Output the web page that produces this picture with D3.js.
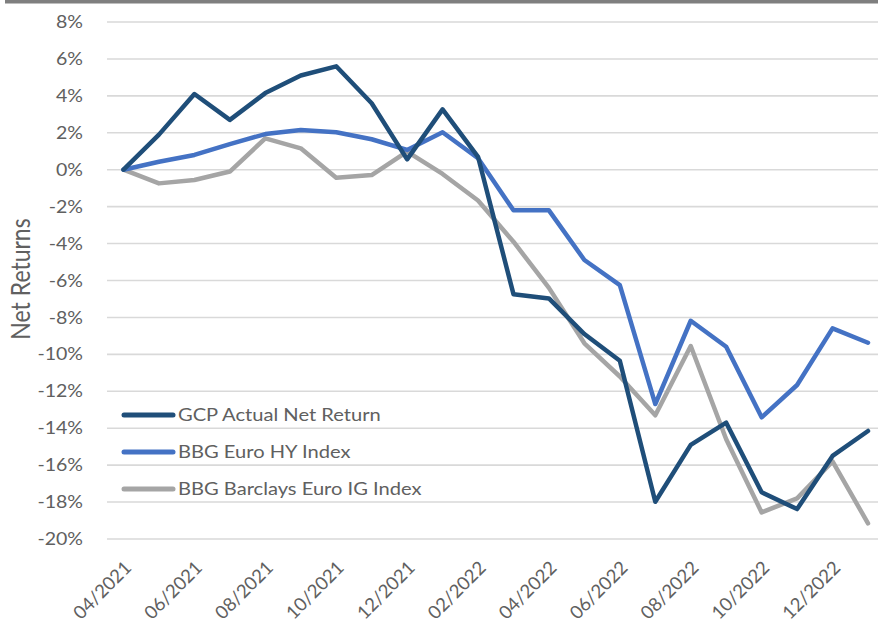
<!DOCTYPE html>
<html>
<head>
<meta charset="utf-8">
<script src="https://cdn.jsdelivr.net/npm/d3@7"></script>
<style>
  html, body { margin: 0; padding: 0; background: #fff; }
  svg { display: block; }
  text { font-family: Lato, Calibri, "Open Sans", sans-serif; fill: #606060; }
</style>
</head>
<body>
<svg id="chart" width="878" height="623"></svg>
<script>
const months = ["04/2021","05/2021","06/2021","07/2021","08/2021","09/2021","10/2021","11/2021","12/2021",
  "01/2022","02/2022","03/2022","04/2022","05/2022","06/2022","07/2022","08/2022","09/2022","10/2022","11/2022","12/2022","01/2023"];
const yTicks = [8, 6, 4, 2, 0, -2, -4, -6, -8, -10, -12, -14, -16, -18, -20];
const seriesNames = ["GCP Actual Net Return", "BBG Euro HY Index", "BBG Barclays Euro IG Index"];
const gcp = [0, 1.9, 4.1, 2.7, 4.15, 5.1, 5.6, 3.6, 0.56, 3.27, 0.7, -6.74, -6.97, -8.9, -10.35, -17.98, -14.9, -13.7, -17.47, -18.38, -15.5, -14.15];
const hy  = [0, 0.43, 0.8, 1.39, 1.93, 2.15, 2.03, 1.65, 1.07, 2.03, 0.62, -2.2, -2.2, -4.89, -6.25, -12.69, -8.18, -9.59, -13.41, -11.66, -8.59, -9.37];
const ig  = [0, -0.74, -0.56, -0.1, 1.7, 1.16, -0.43, -0.29, 0.98, -0.23, -1.67, -3.9, -6.4, -9.4, -11.2, -13.3, -9.55, -14.6, -18.56, -17.8, -15.8, -19.15];
const xLabelMonths = months.filter((m, i) => i % 2 === 0);

const colors = ["#1F4E79", "#4472C4", "#A5A5A5"];
const SX = 1.15; // horizontal stretch of text

const svg = d3.select("#chart");

// top bar
svg.append("rect").attr("x", 5).attr("y", 0).attr("width", 873).attr("height", 3.5).attr("fill", "#7f7f7f");

const x = d3.scalePoint().domain(months).range([123.5, 868]);
const y = d3.scaleLinear().domain([-20, 8]).range([539, 22]);

// gridlines
svg.append("g").selectAll("line").data(yTicks).join("line")
  .attr("x1", 107).attr("x2", 878)
  .attr("y1", d => y(d)).attr("y2", d => y(d))
  .attr("stroke", "#d9d9d9").attr("stroke-width", 1.6);

// y tick labels
svg.append("g").selectAll("text").data(yTicks).join("text")
  .attr("transform", d => `translate(83,${y(d)}) scale(${SX},1)`)
  .attr("text-anchor", "end").attr("dy", "0.36em")
  .style("font-size", "17px")
  .text(d => d + "%");

// x tick labels
svg.append("g").selectAll("text").data(xLabelMonths).join("text")
  .attr("transform", d => `translate(${x(d) + 9},569) rotate(-45)`)
  .attr("text-anchor", "end")
  .style("font-size", "18.5px")
  .text(d => d);

// y title
svg.append("text")
  .attr("transform", `translate(30,279) scale(${SX},1) rotate(-90)`)
  .attr("text-anchor", "middle")
  .style("font-size", "23px")
  .text("Net Returns");

// lines
const lineGen = d3.line().x((d, i) => x(months[i])).y(d => y(d));
const allSeries = [gcp, hy, ig];
const drawOrder = [2, 1, 0];
svg.append("g").selectAll("path").data(drawOrder).join("path")
  .attr("d", k => lineGen(allSeries[k]))
  .attr("fill", "none")
  .attr("stroke", k => colors[k])
  .attr("stroke-width", 4.5)
  .attr("stroke-linejoin", "round")
  .attr("stroke-linecap", "round");

// legend
const legY = d3.scalePoint().domain(seriesNames).range([415, 489]);
const leg = svg.append("g").selectAll("g").data(seriesNames).join("g")
  .attr("transform", d => `translate(0,${legY(d)})`);
leg.append("line").attr("x1", 124).attr("x2", 173).attr("y1", 0).attr("y2", 0)
  .attr("stroke", (d, i) => colors[i]).attr("stroke-width", 5).attr("stroke-linecap", "round");
leg.append("text")
  .attr("transform", `translate(178,0) scale(${SX},1)`)
  .attr("dy", "0.36em")
  .style("font-size", "17.5px")
  .text(d => d);
</script>
</body>
</html>
